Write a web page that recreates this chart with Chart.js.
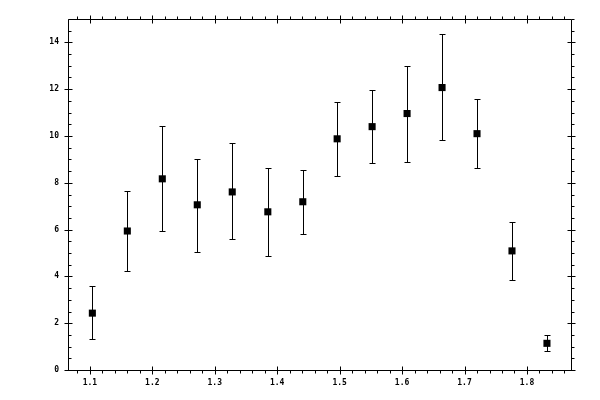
<!DOCTYPE html>
<html>
<head>
<meta charset="utf-8">
<script src="https://cdn.jsdelivr.net/npm/chart.js@4.4.1/dist/chart.umd.min.js"></script>
<style>
  html, body { margin: 0; padding: 0; background: #fff; }
  #wrap { width: 600px; height: 400px; }
</style>
</head>
<body>
<div id="wrap"><canvas id="plot" width="600" height="400"></canvas></div>
<script>
// valeurs
const xValues = [1.104, 1.160, 1.216, 1.272, 1.328, 1.385, 1.441, 1.496, 1.552, 1.608, 1.664, 1.720, 1.776, 1.832];
const yValues = [2.43, 5.94, 8.17, 7.06, 7.61, 6.76, 7.19, 9.88, 10.40, 10.96, 12.07, 10.10, 5.09, 1.14];
const yHigh   = [3.59, 7.66, 10.44, 9.03, 9.68, 8.64, 8.56, 11.47, 11.95, 13.01, 14.34, 11.60, 6.33, 1.48];
const yLow    = [1.32, 4.23, 5.94, 5.04, 5.60, 4.87, 5.81, 8.30, 8.86, 8.90, 9.84, 8.64, 3.84, 0.81];
const xTicks = [1.1, 1.2, 1.3, 1.4, 1.5, 1.6, 1.7, 1.8];
const yTicks = [0, 2, 4, 6, 8, 10, 12, 14];

const points = xValues.map((x, i) => ({ x: x, y: yValues[i] }));

// barres d'erreur, cadre et graduations
const framePlugin = {
    id: 'framePlugin',
    beforeDatasetsDraw(chart) {
        const ctx = chart.ctx;
        const xs = chart.scales.x, ys = chart.scales.y;
        ctx.save();
        ctx.strokeStyle = '#000';
        ctx.lineWidth = 1;
        ctx.beginPath();
        xValues.forEach((x, i) => {
            const px = Math.round(xs.getPixelForValue(x)) + 0.5;
            const pt = Math.round(ys.getPixelForValue(yHigh[i])) + 0.5;
            const pb = Math.round(ys.getPixelForValue(yLow[i])) + 0.5;
            ctx.moveTo(px, pt); ctx.lineTo(px, pb);
            ctx.moveTo(px - 3, pt); ctx.lineTo(px + 3, pt);
            ctx.moveTo(px - 3, pb); ctx.lineTo(px + 3, pb);
        });
        ctx.stroke();
        ctx.restore();
    },
    afterDatasetsDraw(chart) {
        const ctx = chart.ctx;
        const a = chart.chartArea;
        const xs = chart.scales.x, ys = chart.scales.y;
        const L = Math.round(a.left) + 0.5, R = Math.round(a.right) + 0.5;
        const T = Math.round(a.top) + 0.5, B = Math.round(a.bottom) + 0.5;
        ctx.save();
        ctx.strokeStyle = '#000';
        ctx.lineWidth = 1;
        ctx.beginPath();
        ctx.rect(L, T, R - L, B - T);
        // graduations x
        for (let k = 54; k <= 93; k++) {
            const v = k / 50;
            if (v < xs.min || v > xs.max) continue;
            const px = Math.round(xs.getPixelForValue(v)) + 0.5;
            const major = k % 5 === 0;
            if (major) {
                ctx.moveTo(px, B - 4); ctx.lineTo(px, B + 4);
                ctx.moveTo(px, T - 4); ctx.lineTo(px, T + 4);
            } else {
                ctx.moveTo(px, B); ctx.lineTo(px, B + 3);
                ctx.moveTo(px, T); ctx.lineTo(px, T - 3);
            }
        }
        // graduations y
        for (let k = 0; k <= 30; k++) {
            const v = k / 2;
            const py = Math.round(ys.getPixelForValue(v)) + 0.5;
            const major = k % 4 === 0;
            if (major) {
                ctx.moveTo(L - 4, py); ctx.lineTo(L + 4, py);
                ctx.moveTo(R - 4, py); ctx.lineTo(R + 4, py);
            } else {
                ctx.moveTo(L, py); ctx.lineTo(L + 3, py);
                ctx.moveTo(R, py); ctx.lineTo(R + 3, py);
            }
        }
        ctx.stroke();
        ctx.restore();
    }
};

const tickFont = { family: 'DejaVu Sans Mono', size: 8, weight: 'bold' };

new Chart(document.getElementById('plot').getContext('2d'), {
    type: 'scatter',
    data: {
        datasets: [{
            data: points,
            pointStyle: 'rect',
            pointRadius: 5,
            pointHoverRadius: 5,
            pointBorderWidth: 0,
            backgroundColor: '#000',
            borderColor: '#000'
        }]
    },
    options: {
        responsive: false,
        animation: false,
        devicePixelRatio: 1,
        layout: { padding: { top: 19, right: 29, left: 0, bottom: 0 } },
        plugins: {
            legend: { display: false },
            tooltip: { enabled: false }
        },
        scales: {
            x: {
                type: 'linear',
                min: 1.065,
                max: 1.8705,
                grid: { display: false, drawTicks: false },
                border: { display: false },
                afterBuildTicks: function(scale) {
                    scale.ticks = xTicks.map(v => ({ value: v }));
                },
                afterFit: function(scale) { scale.height = 30; },
                ticks: {
                    color: '#000',
                    font: tickFont,
                    padding: 8,
                    maxRotation: 0,
                    autoSkip: false,
                    callback: function(value) { return value.toFixed(1); }
                }
            },
            y: {
                type: 'linear',
                min: 0,
                max: 15,
                grid: { display: false, drawTicks: false },
                border: { display: false },
                afterBuildTicks: function(scale) {
                    scale.ticks = yTicks.map(v => ({ value: v }));
                },
                afterFit: function(scale) { scale.width = 68; },
                ticks: {
                    color: '#000',
                    font: tickFont,
                    padding: 9,
                    autoSkip: false,
                    callback: function(value) { return String(value); }
                }
            }
        }
    },
    plugins: [framePlugin]
});
</script>
</body>
</html>
